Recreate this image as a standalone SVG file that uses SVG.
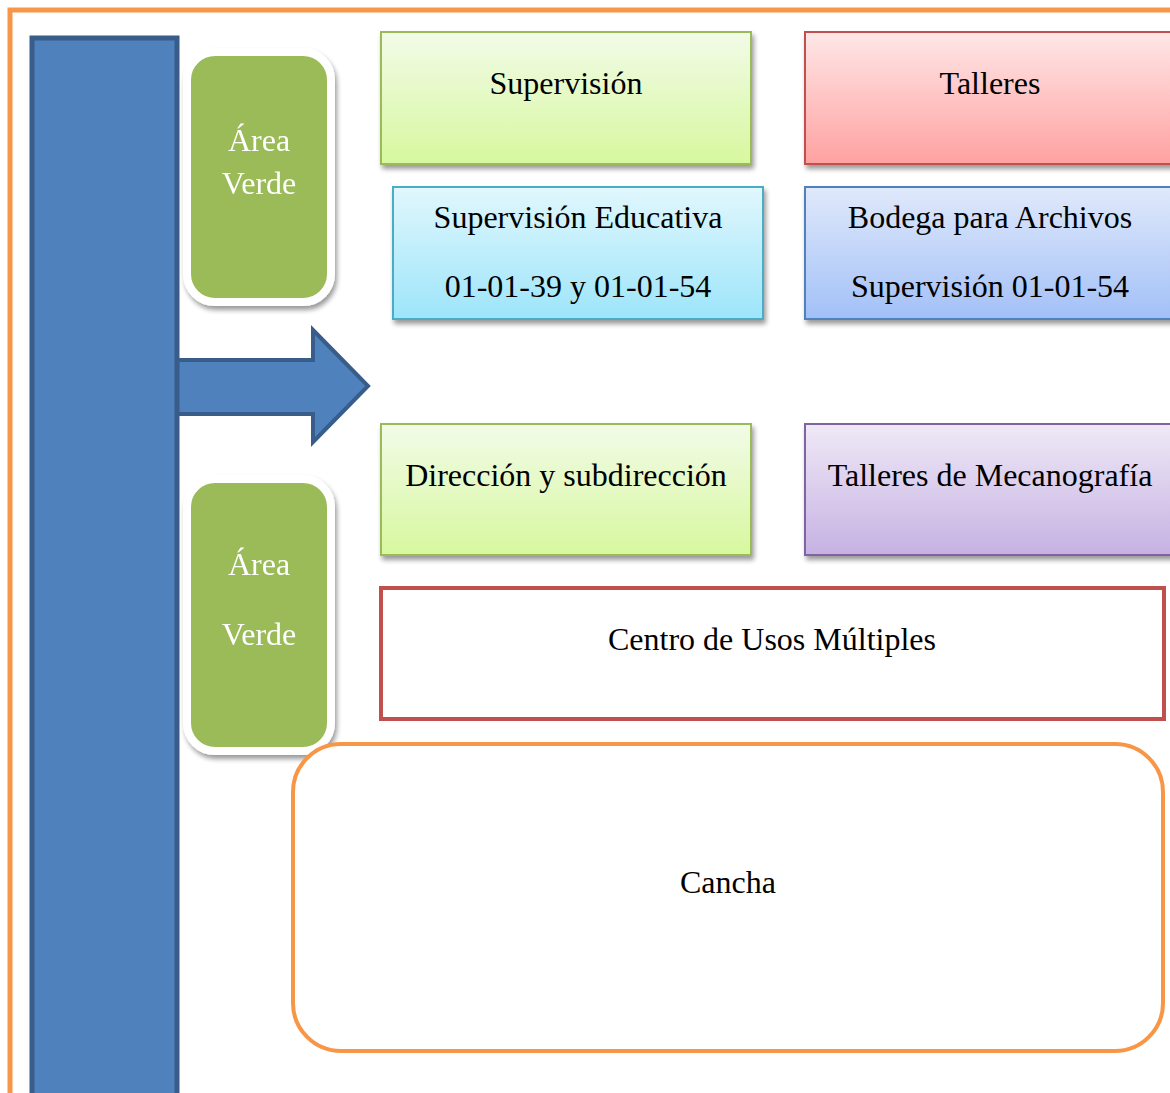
<svg xmlns="http://www.w3.org/2000/svg" width="1170" height="1093" viewBox="0 0 1170 1093">
<style>
  text { font-family: "Liberation Serif", "Times New Roman", serif; font-size: 32px; fill: #000; text-anchor: middle; }
  .w { fill: #ffffff; }
  .box { stroke-width: 2; filter: url(#sh); }
</style>
<defs>
  <filter id="sh" x="-10%" y="-10%" width="125%" height="130%">
    <feGaussianBlur in="SourceAlpha" stdDeviation="2.5"/>
    <feOffset dx="2" dy="4" result="b"/>
    <feComponentTransfer><feFuncA type="linear" slope="0.4"/></feComponentTransfer>
    <feMerge><feMergeNode/><feMergeNode in="SourceGraphic"/></feMerge>
  </filter>
  <linearGradient id="gGreen" x1="0" y1="0" x2="0" y2="1"><stop offset="0" stop-color="#F2FBE8"/><stop offset="1" stop-color="#D7F89E"/></linearGradient>
  <linearGradient id="gRed" x1="0" y1="0" x2="0" y2="1"><stop offset="0" stop-color="#FFE7E7"/><stop offset="1" stop-color="#FFA1A1"/></linearGradient>
  <linearGradient id="gCyan" x1="0" y1="0" x2="0" y2="1"><stop offset="0" stop-color="#E1F7FD"/><stop offset="1" stop-color="#9DE5FA"/></linearGradient>
  <linearGradient id="gBlue" x1="0" y1="0" x2="0" y2="1"><stop offset="0" stop-color="#E0E9FB"/><stop offset="1" stop-color="#A2C0F7"/></linearGradient>
  <linearGradient id="gPurple" x1="0" y1="0" x2="0" y2="1"><stop offset="0" stop-color="#EFE9F6"/><stop offset="1" stop-color="#C6B2E3"/></linearGradient>
</defs>
<rect width="1170" height="1093" fill="#ffffff"/>
<rect x="10" y="10" width="1200" height="1120" fill="none" stroke="#F79646" stroke-width="5"/>

<g id="connectors">
  <path d="M 170 360 L 313 360 L 313 330 L 368 386 L 313 442 L 313 414 L 170 414 Z" fill="#4F81BD" stroke="#385D8A" stroke-width="4" stroke-linejoin="miter"/>
</g>

<g id="corridor">
  <rect x="32" y="38" width="145" height="1080" fill="#4F81BD" stroke="#385D8A" stroke-width="5"/>
</g>

<g id="area-verde-1" filter="url(#sh)">
  <rect x="187" y="52" width="144" height="250" rx="28" fill="#9BBB59" stroke="#ffffff" stroke-width="8"/>
  <text class="w" x="259" y="151">Área</text>
  <text class="w" x="259" y="194">Verde</text>
</g>
<g id="area-verde-2" filter="url(#sh)">
  <rect x="187" y="479" width="144" height="272" rx="28" fill="#9BBB59" stroke="#ffffff" stroke-width="8"/>
  <text class="w" x="259" y="575">Área</text>
  <text class="w" x="259" y="645">Verde</text>
</g>

<g id="supervision">
  <rect class="box" x="381" y="32" width="370" height="132" fill="url(#gGreen)" stroke="#9BBB59"/>
  <text x="566" y="94">Supervisión</text>
</g>
<g id="talleres">
  <rect class="box" x="805" y="32" width="380" height="132" fill="url(#gRed)" stroke="#C0504D"/>
  <text x="990" y="94">Talleres</text>
</g>
<g id="supervision-educativa">
  <rect class="box" x="393" y="187" width="370" height="132" fill="url(#gCyan)" stroke="#4BACC6"/>
  <text x="578" y="228">Supervisión Educativa</text>
  <text x="578" y="297">01-01-39 y 01-01-54</text>
</g>
<g id="bodega">
  <rect class="box" x="805" y="187" width="380" height="132" fill="url(#gBlue)" stroke="#4F81BD"/>
  <text x="990" y="228">Bodega para Archivos</text>
  <text x="990" y="297">Supervisión 01-01-54</text>
</g>
<g id="direccion">
  <rect class="box" x="381" y="424" width="370" height="131" fill="url(#gGreen)" stroke="#9BBB59"/>
  <text x="566" y="486">Dirección y subdirección</text>
</g>
<g id="mecanografia">
  <rect class="box" x="805" y="424" width="380" height="131" fill="url(#gPurple)" stroke="#8064A2"/>
  <text x="990" y="486">Talleres de Mecanografía</text>
</g>
<g id="usos-multiples">
  <rect x="381" y="588" width="783" height="131" fill="#ffffff" stroke="#C0504D" stroke-width="4"/>
  <text x="772" y="650">Centro de Usos Múltiples</text>
</g>
<g id="cancha">
  <rect x="293" y="744" width="870" height="307" rx="48" fill="#ffffff" stroke="#F79646" stroke-width="4"/>
  <text x="728" y="893">Cancha</text>
</g>
</svg>
